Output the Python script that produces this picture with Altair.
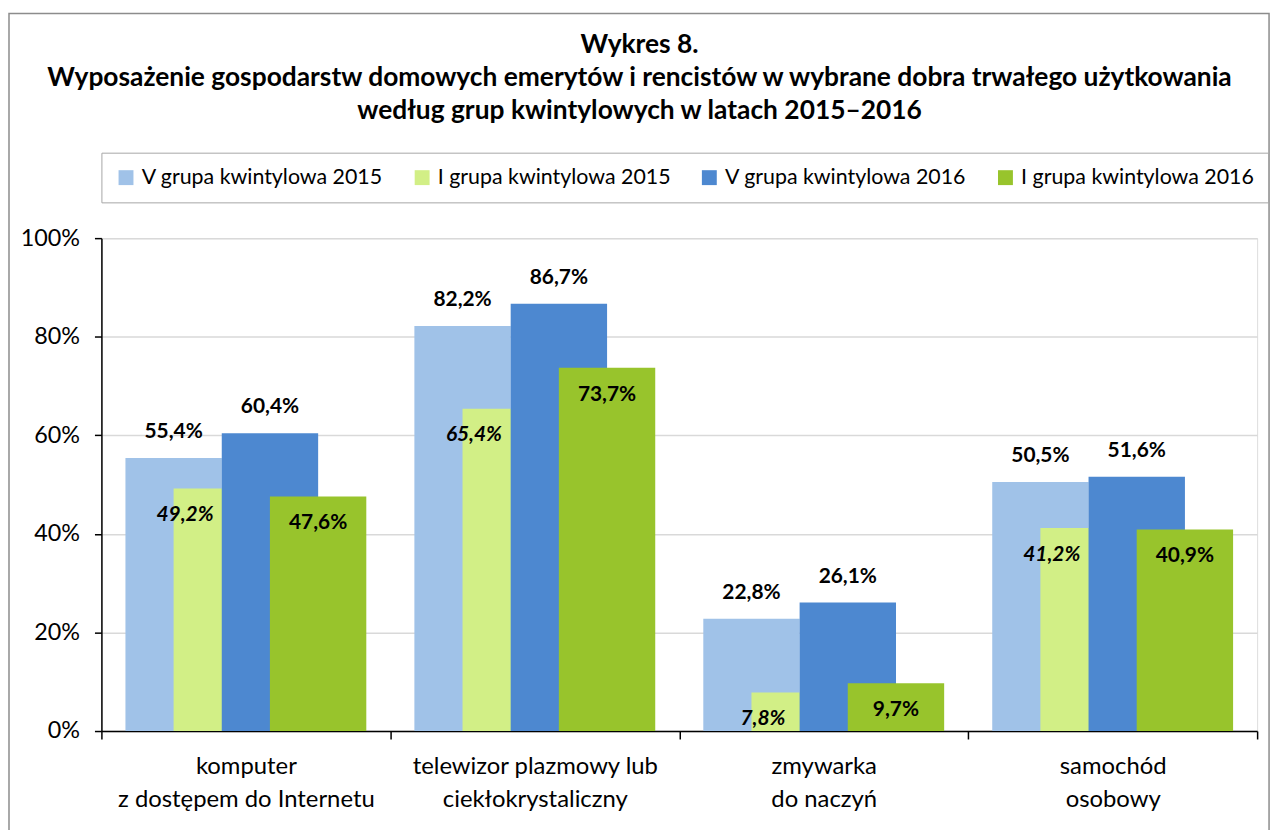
import altair as alt
import pandas as pd

categories = [
    "komputer|z dostępem do Internetu",
    "telewizor plazmowy lub|ciekłokrystaliczny",
    "zmywarka|do naczyń",
    "samochód|osobowy",
]
series = [
    "V grupa kwintylowa 2015",
    "I grupa kwintylowa 2015",
    "V grupa kwintylowa 2016",
    "I grupa kwintylowa 2016",
]
v_2015 = [55.4, 82.2, 22.8, 50.5]
i_2015 = [49.2, 65.4, 7.8, 41.2]
v_2016 = [60.4, 86.7, 26.1, 51.6]
i_2016 = [47.6, 73.7, 9.7, 40.9]
colors = ["#A0C2E8", "#D2EF86", "#4D88D0", "#98C42C"]
y_ticks = [0, 20, 40, 60, 80, 100]

title_lines = [
    "Wykres 8.",
    "Wyposażenie gospodarstw domowych emerytów i rencistów w wybrane dobra trwałego użytkowania",
    "według grup kwintylowych w latach 2015–2016",
]

rows = []
for ci, cat in enumerate(categories):
    for si, (s, vals) in enumerate(zip(series, [v_2015, i_2015, v_2016, i_2016])):
        v = vals[ci]
        rows.append({
            "cat": cat,
            "series": s,
            "value": v,
            "label": f"{v:.1f}".replace(".", ",") + "%",
            "order": ci * 4 + si,
        })
df = pd.DataFrame(rows)

FONT = "Lato"

base = alt.Chart(df).encode(
    x=alt.X(
        "cat:N",
        sort=categories,
        scale=alt.Scale(paddingInner=0, paddingOuter=0),
        axis=alt.Axis(
            title=None,
            labelExpr="split(datum.label, '|')",
            labelAngle=0,
            labelFont=FONT,
            labelFontSize=24,
            labelColor="black",
            labelLineHeight=33,
            labelPadding=16,
            labelLimit=0,
            tickBand="extent",
            tickSize=8,
            tickColor="black",
            tickWidth=1.5,
            domainColor="black",
            domainWidth=1.5,
            grid=False,
        ),
    ),
    xOffset=alt.XOffset(
        "series:N",
        sort=series,
        scale=alt.Scale(paddingInner=0, paddingOuter=1),
    ),
)

bars = base.mark_bar(width=97).encode(
    y=alt.Y(
        "value:Q",
        stack=None,
        scale=alt.Scale(domain=[0, 100]),
        axis=alt.Axis(
            title=None,
            values=y_ticks,
            labelExpr="datum.value + '%'",
            labelFont=FONT,
            labelFontSize=23.5,
            labelColor="black",
            labelPadding=15,
            tickSize=7,
            tickColor="black",
            tickWidth=1.5,
            domainColor="black",
            domainWidth=1.5,
            grid=True,
            gridColor="#D9D9D9",
            gridWidth=1.5,
        ),
    ),
    color=alt.Color(
        "series:N",
        sort=series,
        scale=alt.Scale(domain=series, range=colors),
        legend=alt.Legend(
            title=None,
            orient="none",
            legendX=0,
            legendY=-86,
            direction="horizontal",
            columns=4,
            symbolType="square",
            symbolSize=225,
            symbolStrokeWidth=0,
            labelFont=FONT,
            labelFontSize=21.5,
            labelColor="black",
            labelOffset=5,
            labelLimit=0,
            columnPadding=28,
            padding=14,
            strokeColor="#A6A6A6",
        ),
    ),
    order=alt.Order("order:Q"),
)

above = base.transform_filter(
    alt.FieldOneOfPredicate(field="series", oneOf=[series[0], series[2]])
).mark_text(
    font=FONT, fontSize=21, fontWeight="bold", color="black", dy=-26, baseline="middle"
).encode(y=alt.Y("value:Q", stack=None), text="label:N")

inside_i15 = base.transform_filter(
    alt.FieldEqualPredicate(field="series", equal=series[1])
).mark_text(
    font=FONT, fontSize=21, fontWeight="bold", fontStyle="italic", color="black",
    dx=-37, dy=27, baseline="middle"
).encode(y=alt.Y("value:Q", stack=None), text="label:N")

inside_i16 = base.transform_filter(
    alt.FieldEqualPredicate(field="series", equal=series[3])
).mark_text(
    font=FONT, fontSize=21, fontWeight="bold", color="black", dy=27, baseline="middle"
).encode(y=alt.Y("value:Q", stack=None), text="label:N")

border = alt.Chart(pd.DataFrame({"a": [0]})).mark_rect(
    filled=False, stroke="#8C8C8C", strokeWidth=1.5
).encode(
    x=alt.value(-93), x2=alt.value(1175), y=alt.value(-226), y2=alt.value(700)
)

chart = alt.layer(border, bars, above, inside_i15, inside_i16).properties(
    width=1163,
    height=496,
    title=alt.Title(
        title_lines,
        font=FONT,
        fontSize=26.5,
        fontWeight="bold",
        color="black",
        lineHeight=33,
        anchor="middle",
        offset=0,
        dx=-40,
        dy=112,
    ),
    autosize=alt.AutoSizeParams(type="none"),
    padding={"left": 94, "top": 229, "right": 20, "bottom": 97},
).configure_view(stroke=None).configure(background="white")

chart.save("out.html", embed_options={"renderer": "svg", "actions": False})
